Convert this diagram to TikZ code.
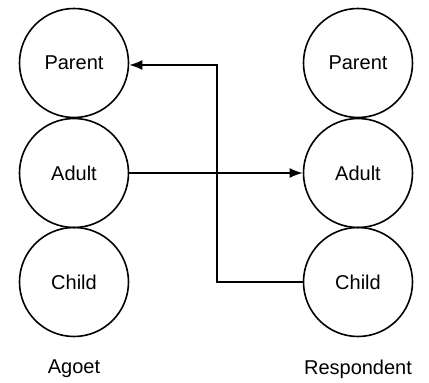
\documentclass[tikz,border=0pt]{standalone}
\usepackage{fontspec}
\setmainfont{Liberation Sans}
\usetikzlibrary{arrows.meta}
\begin{document}
\begin{tikzpicture}[x=1pt,y=1pt,
  state/.style={circle,draw,line width=1.6pt,minimum size=109pt,inner sep=0pt,font=\fontsize{20}{24}\selectfont},
  caption/.style={font=\fontsize{20}{24}\selectfont},
  link/.style={line width=1.7pt,-{Latex[length=13pt,width=10pt]}}]
  \useasboundingbox (0,0) rectangle (429,383);
  % agent ego states
  \node[state] (pl) at (74,320) {Parent};
  \node[state] (al) at (74,210) {Adult};
  \node[state] (cl) at (74,101) {Child};
  % respondent ego states
  \node[state] (pr) at (358,320) {Parent};
  \node[state] (ar) at (358,210) {Adult};
  \node[state] (cr) at (358,101) {Child};
  % captions
  \node[caption] (agl) at (74,14) {Agoet};
  \node[caption] (rsl) at (358,14) {Respondent};
  % transactions
  \coordinate (bend) at (217,318);
  \draw[link] (al.east) -- (ar.west);
  \draw[link] (cr.west) -| (bend) -- (pl.east |- bend);
\end{tikzpicture}
\end{document}
